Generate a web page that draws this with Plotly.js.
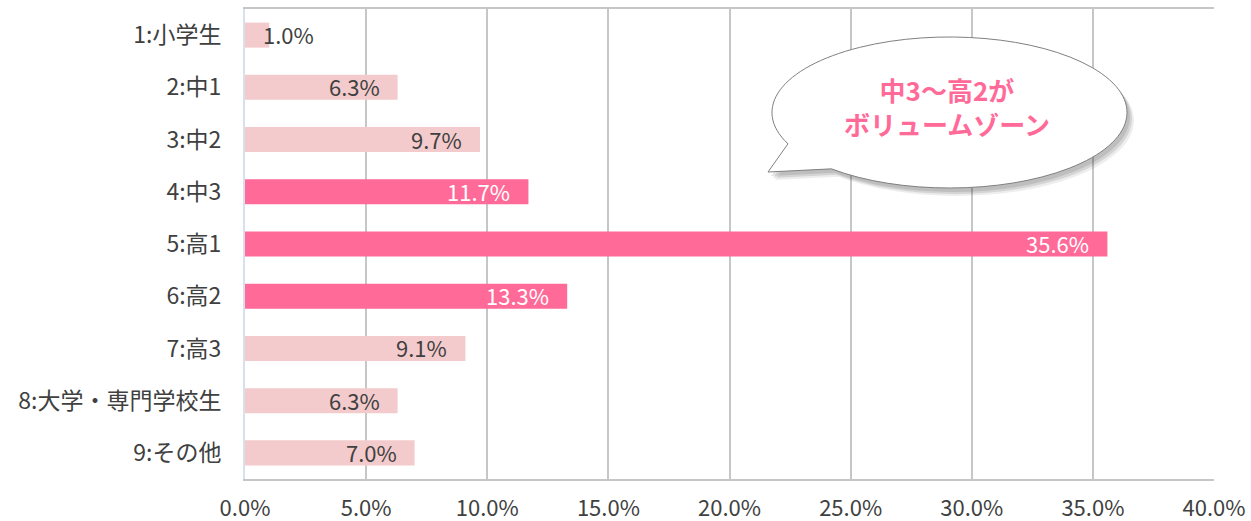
<!DOCTYPE html>
<html>
<head>
<meta charset="utf-8">
<script src="https://cdn.plot.ly/plotly-3.0.1.min.js"></script>
<style>html,body{margin:0;padding:0;background:#fff;}#chart{width:1251px;height:521px;}</style>
</head>
<body>
<div id="chart"></div>
<script>
// ---- data ----
const categories = ["1:小学生","2:中1","3:中2","4:中3","5:高1","6:高2","7:高3","8:大学・専門学校生","9:その他"];
const values = [1.0, 6.3, 9.7, 11.7, 35.6, 13.3, 9.1, 6.3, 7.0];
const highlighted = [false, false, false, true, true, true, false, false, false];
const calloutText = "中3〜高2が<br>ボリュームゾーン";

// ---- styles ----
const LIGHT = "#F4CBCC";
const STRONG = "#FF6A98";
const TEXT = "#404040";
const FONT = "Noto Sans CJK JP, Noto Sans, sans-serif";

const L = 245, R = 1214, T = 9, B = 479, W = 1251, H = 521;
function P(X, Y) { return ((X - L) / (R - L)).toFixed(5) + "," + ((B - Y) / (B - T)).toFixed(5); }

// callout outline (ellipse with a tail) built as a bezier path in pixel space
function calloutPath(dx, dy) {
  const cx = 949.5 + dx, cy = 112.5 + dy, rx = 177.5, ry = 75.5;
  const tA = 155.5 * Math.PI / 180, tB = (131.7 + 360) * Math.PI / 180;
  const n = 4, step = (tB - tA) / n, a = 4 / 3 * Math.tan(step / 4);
  const pt = t => [cx + rx * Math.cos(t), cy + ry * Math.sin(t)];
  const d = t => [-rx * Math.sin(t), ry * Math.cos(t)];
  let p0 = pt(tA);
  let s = "M" + P(p0[0], p0[1]);
  for (let i = 0; i < n; i++) {
    const t1 = tA + i * step, t2 = t1 + step;
    const q1 = pt(t1), q2 = pt(t2), d1 = d(t1), d2 = d(t2);
    s += " C" + P(q1[0] + a * d1[0], q1[1] + a * d1[1]) + " " + P(q2[0] - a * d2[0], q2[1] - a * d2[1]) + " " + P(q2[0], q2[1]);
  }
  s += " L" + P(768 + dx, 172 + dy) + " Z";
  return s;
}

const trace = {
  type: "bar",
  orientation: "h",
  y: categories,
  x: values,
  width: 0.48,
  marker: { color: highlighted.map(h => h ? STRONG : LIGHT) },
  hoverinfo: "skip"
};

const annotations = values.map((v, i) => {
  const small = v < 3;
  return {
    xref: "x", yref: "y",
    x: small ? 0 : v, y: categories[i],
    xanchor: small ? "left" : "right",
    yanchor: "middle",
    xshift: small ? 16 : -16,
    yshift: 1,
    text: v.toFixed(1) + "%",
    showarrow: false,
    font: { family: FONT, size: 22, color: highlighted[i] ? "#FFFFFF" : TEXT }
  };
});
annotations.push({
  xref: "paper", yref: "paper",
  x: (947 - L) / (R - L), y: (B - 106) / (B - T),
  xanchor: "center", yanchor: "middle",
  text: calloutText, showarrow: false,
  align: "center",
  font: { family: FONT, size: 26, color: STRONG, weight: "bold" }
});

const shapes = [
  { type: "path", xref: "paper", yref: "paper", path: calloutPath(7, 8), fillcolor: "rgba(0,0,0,0.07)", line: { width: 0 } },
  { type: "path", xref: "paper", yref: "paper", path: calloutPath(5, 6), fillcolor: "rgba(0,0,0,0.10)", line: { width: 0 } },
  { type: "path", xref: "paper", yref: "paper", path: calloutPath(3, 4), fillcolor: "rgba(0,0,0,0.10)", line: { width: 0 } },
  { type: "path", xref: "paper", yref: "paper", path: calloutPath(0, 0), fillcolor: "#FFFFFF", line: { color: "#808080", width: 1 } }
];

const layout = {
  width: W, height: H,
  margin: { l: L, r: W - R, t: T, b: H - B, pad: 0 },
  paper_bgcolor: "#fff", plot_bgcolor: "#fff",
  showlegend: false,
  font: { family: FONT, size: 23, color: TEXT },
  xaxis: {
    range: [0, 40], dtick: 5, tick0: 0,
    tickformat: ".1f", ticksuffix: "%",
    showgrid: true, gridcolor: "#C6C6C6", gridwidth: 2,
    zeroline: false,
    showline: true, linecolor: "#C6C6C6", linewidth: 2, mirror: true,
    ticks: "outside", ticklen: 9, tickcolor: "rgba(0,0,0,0)",
    tickfont: { family: FONT, size: 22, color: TEXT },
    fixedrange: true
  },
  yaxis: {
    type: "category",
    range: [8.5, -0.5],
    showgrid: false, zeroline: false,
    showline: true, linecolor: "#D6E0EE", linewidth: 2,
    ticks: "outside", ticklen: 17, tickcolor: "rgba(0,0,0,0)",
    tickfont: { family: FONT, size: 23, color: TEXT },
    fixedrange: true
  },
  annotations: annotations,
  shapes: shapes
};

Plotly.newPlot("chart", [trace], layout, { staticPlot: true, displayModeBar: false });
</script>
</body>
</html>
